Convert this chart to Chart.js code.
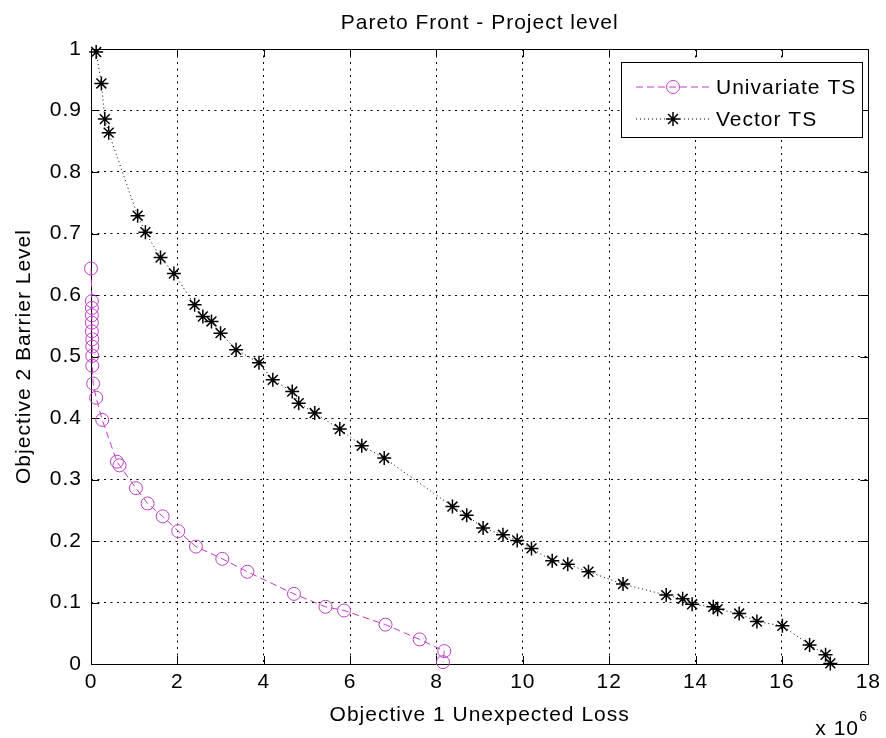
<!DOCTYPE html>
<html>
<head>
<meta charset="utf-8">
<title>Pareto Front - Project level</title>
<script src="https://cdn.jsdelivr.net/npm/chart.js@4.4.0/dist/chart.umd.min.js"></script>
<style>
    body { margin: 0; background: #fff; }
    #cadre { width: 886px; height: 738px; }
</style>
</head>
<body>
<div id="cadre"><canvas id="graphique"></canvas></div>
<script>
// Objective 1 (x 10^6) and Objective 2 values
const uniX = [0.00, 0.02, 0.02, 0.02, 0.02, 0.02, 0.03, 0.03, 0.03, 0.03, 0.05, 0.12, 0.26,
              0.60, 0.66, 1.04, 1.31, 1.66, 2.02, 2.43, 3.04, 3.62, 4.70, 5.43, 5.86, 6.82, 7.61, 8.18, 8.15];
const uniY = [0.643, 0.590, 0.579, 0.567, 0.555, 0.541, 0.528, 0.516, 0.501, 0.485, 0.456, 0.433, 0.397,
              0.329, 0.323, 0.286, 0.261, 0.240, 0.216, 0.191, 0.171, 0.150, 0.114, 0.093, 0.087, 0.064, 0.040, 0.021, 0.003];

const vecX = [0.12, 0.24, 0.32, 0.41, 1.08, 1.26, 1.61, 1.92, 2.40, 2.59, 2.79, 3.00, 3.36, 3.89,
              4.21, 4.66, 4.81, 5.18, 5.76, 6.27, 6.79, 8.37, 8.70, 9.08, 9.54, 9.87, 10.20, 10.68,
              11.04, 11.52, 12.32, 13.32, 13.70, 13.92, 14.41, 14.51, 15.01, 15.42, 16.01, 16.64, 17.01, 17.12];
const vecY = [0.995, 0.944, 0.886, 0.864, 0.729, 0.702, 0.661, 0.635, 0.584, 0.565, 0.557, 0.538, 0.511, 0.490,
              0.462, 0.443, 0.424, 0.408, 0.382, 0.355, 0.335, 0.256, 0.242, 0.221, 0.210, 0.201, 0.188, 0.168,
              0.162, 0.150, 0.130, 0.112, 0.106, 0.097, 0.093, 0.089, 0.082, 0.069, 0.062, 0.031, 0.015, 0.001];

const seriesNames = ['Univariate TS', 'Vector TS'];
const titre = 'Pareto Front - Project level';
const titreX = 'Objective 1 Unexpected Loss';
const titreY = 'Objective 2 Barrier Level';
const xMin = 0, xMax = 18, xStep = 2;
const yMin = 0, yMax = 1, yStep = 0.1;

const police = "'Liberation Sans', Arial, sans-serif";
const magenta = '#bf3fc4';

function points(xs, ys) {
    const res = [];
    for (let i = 0; i < xs.length; i++) {
        res.push({ x: xs[i], y: ys[i] });
    }
    return res;
}

// axes box, inward ticks, title over the plot, x 10^6 exponent and a MATLAB like legend
const cadreMatlab = {
    id: 'cadreMatlab',
    beforeDraw(chart) {
        chart.ctx.letterSpacing = '1px';
    },
    beforeDatasetsDraw(chart) {
        const ctx = chart.ctx;
        const a = chart.chartArea;
        const sx = chart.scales.x;
        const sy = chart.scales.y;
        ctx.save();
        ctx.strokeStyle = '#000';
        ctx.lineWidth = 1;
        ctx.setLineDash([]);
        ctx.beginPath();
        sx.ticks.forEach(t => {
            const px = Math.round(sx.getPixelForValue(t.value)) + 0.5;
            ctx.moveTo(px, a.bottom); ctx.lineTo(px, a.bottom - 8);
            ctx.moveTo(px, a.top); ctx.lineTo(px, a.top + 8);
        });
        sy.ticks.forEach(t => {
            const py = Math.round(sy.getPixelForValue(t.value)) + 0.5;
            ctx.moveTo(a.left, py); ctx.lineTo(a.left + 8, py);
            ctx.moveTo(a.right, py); ctx.lineTo(a.right - 8, py);
        });
        ctx.stroke();
        ctx.strokeRect(Math.round(a.left) + 0.5, Math.round(a.top) + 0.5,
                       Math.round(a.right - a.left), Math.round(a.bottom - a.top));
        ctx.restore();
    },
    afterDraw(chart) {
        const ctx = chart.ctx;
        const a = chart.chartArea;
        ctx.save();
        ctx.letterSpacing = '1px';
        ctx.fillStyle = '#000';

        // title centred over the axes
        ctx.font = '21px ' + police;
        ctx.textAlign = 'center';
        ctx.textBaseline = 'middle';
        ctx.fillText(titre, (a.left + a.right) / 2, 23);

        // exponent of the x axis
        ctx.textBaseline = 'alphabetic';
        ctx.textAlign = 'left';
        ctx.fillText('x 10', a.right - 53, 735);
        ctx.font = '14px ' + police;
        ctx.fillText('6', a.right - 9, 721);

        // legend
        const bx = 621, by = 62, bw = 241, bh = 75;
        ctx.fillStyle = '#fff';
        ctx.fillRect(bx, by, bw, bh);
        ctx.strokeStyle = '#000';
        ctx.lineWidth = 1;
        ctx.strokeRect(bx + 0.5, by + 0.5, bw, bh);
        const rows = [87, 119];
        chart.data.datasets.forEach((ds, i) => {
            const y = rows[i];
            ctx.strokeStyle = ds.borderColor;
            ctx.lineWidth = ds.borderWidth;
            ctx.setLineDash(ds.borderDash || []);
            ctx.beginPath();
            ctx.moveTo(636, y); ctx.lineTo(711, y);
            ctx.stroke();
            ctx.setLineDash([]);
            ctx.strokeStyle = ds.pointBorderColor;
            ctx.fillStyle = ds.pointBackgroundColor;
            ctx.lineWidth = ds.pointBorderWidth;
            Chart.helpers.drawPoint(ctx, {
                pointStyle: ds.pointStyle, radius: ds.pointRadius,
                borderWidth: ds.pointBorderWidth, rotation: 0
            }, 673, y);
            ctx.fillStyle = '#000';
            ctx.font = '21px ' + police;
            ctx.textBaseline = 'middle';
            ctx.fillText(ds.label, 716, y + 1);
        });
        ctx.restore();
    }
};

function afficherGraphique() {
    const ctx = document.getElementById('graphique').getContext('2d');
    const data = {
        datasets: [{
            label: seriesNames[0],
            data: points(uniX, uniY),
            showLine: true,
            borderColor: magenta,
            borderWidth: 1,
            borderDash: [7, 4],
            pointStyle: 'circle',
            pointRadius: 6.5,
            pointBorderWidth: 1,
            pointBorderColor: magenta,
            pointBackgroundColor: 'rgba(0,0,0,0)',
            clip: false
        }, {
            label: seriesNames[1],
            data: points(vecX, vecY),
            showLine: true,
            borderColor: '#000',
            borderWidth: 1,
            borderDash: [1, 3],
            pointStyle: 'star',
            pointRadius: 7,
            pointBorderWidth: 1.5,
            pointBorderColor: '#000',
            pointBackgroundColor: '#000',
            clip: false
        }]
    };

    const options = {
        responsive: true,
        maintainAspectRatio: false,
        animation: false,
        layout: { padding: { left: 0, right: 14, top: 49, bottom: 0 } },
        plugins: {
            legend: { display: false },
            tooltip: { enabled: false },
            title: { display: false }
        },
        scales: {
            x: {
                type: 'linear',
                min: xMin, max: xMax,
                afterFit(scale) { scale.height = 74; },
                ticks: { stepSize: xStep, color: '#000', padding: 6,
                         font: { family: police, size: 21, lineHeight: 1.2 } },
                grid: { color: '#000', lineWidth: 1, drawTicks: false },
                border: { display: false, dash: [2, 4.5] },
                title: { display: true, text: titreX, color: '#000',
                         font: { family: police, size: 21, lineHeight: 1.2 },
                         padding: { top: 0, bottom: 10 } }
            },
            y: {
                type: 'linear',
                min: yMin, max: yMax,
                afterFit(scale) { scale.width = 91; },
                ticks: { stepSize: yStep, color: '#000', padding: 9,
                         font: { family: police, size: 21, lineHeight: 1.2 },
                         callback: v => String(Number(v.toFixed(1))) },
                grid: { color: '#000', lineWidth: 1, drawTicks: false },
                border: { display: false, dash: [2, 4.5] },
                title: { display: true, text: titreY, color: '#000',
                         font: { family: police, size: 21, lineHeight: 1.2 },
                         padding: { top: 12, bottom: 0 } }
            }
        }
    };

    return new Chart(ctx, {
        type: 'scatter',
        data: data,
        options: options,
        plugins: [cadreMatlab]
    });
}

afficherGraphique();
</script>
</body>
</html>
